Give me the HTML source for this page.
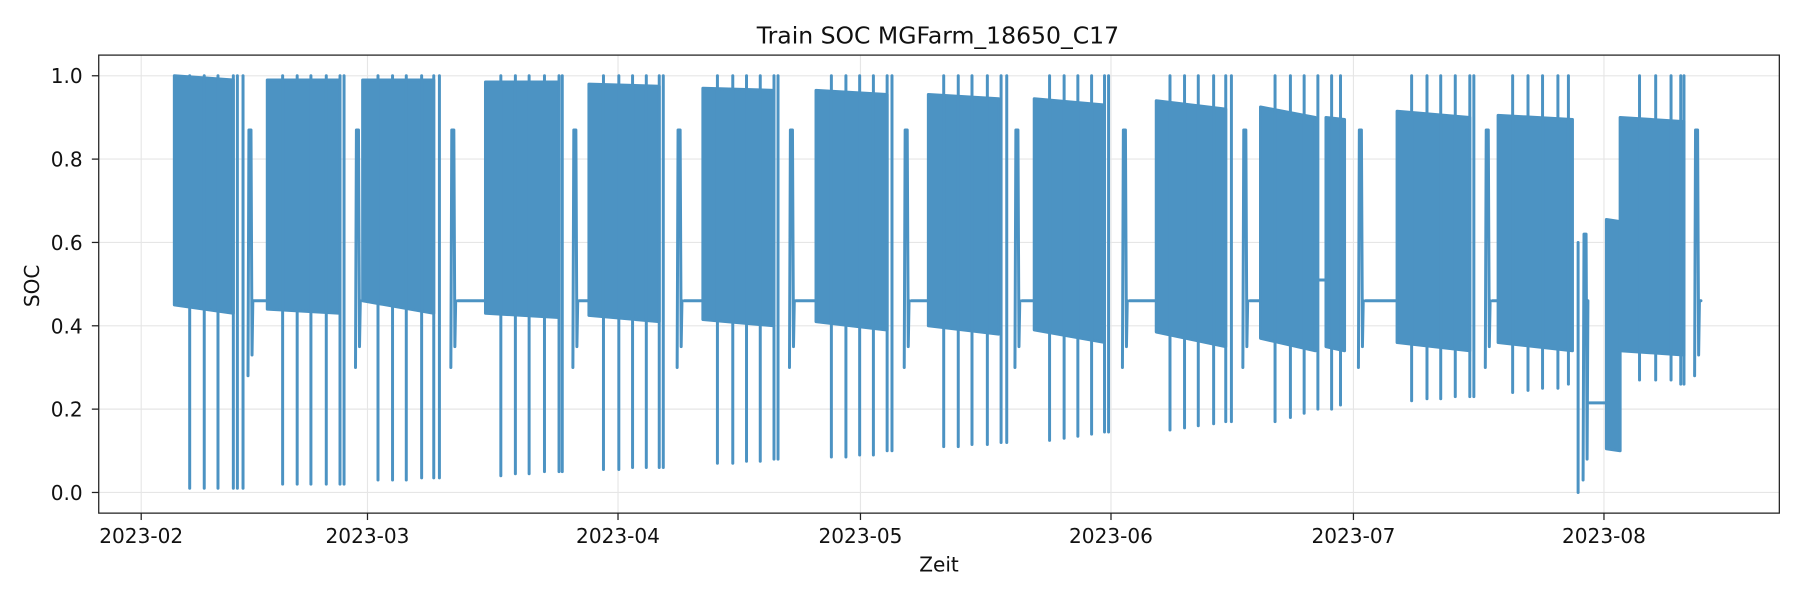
<!DOCTYPE html>
<html><head><meta charset="utf-8"><style>
html,body{margin:0;padding:0;background:#fff;}
svg{display:block;font-family:"DejaVu Sans","Liberation Sans",sans-serif;}
</style></head><body>
<svg id="chart" width="1800" height="600" viewBox="0 0 1568 522.67" xmlns="http://www.w3.org/2000/svg">
<rect x="0" y="0" width="1568" height="522.67" fill="#fff"/>
<g id="grid"></g>
<g id="series"></g>
<rect x="86" y="48" width="1464" height="399" fill="none" stroke="#222" stroke-width="1.1"/>
<g id="axes"></g>
<text x="817" y="38" font-size="20.5" text-anchor="middle" fill="#111">Train SOC MGFarm_18650_C17</text>
<text x="818" y="498" font-size="17.5" text-anchor="middle" fill="#111">Zeit</text>
<text x="34" y="249" font-size="17.5" text-anchor="middle" fill="#111" transform="rotate(-90 34 249)">SOC</text>
</svg>
<script>
// days since 2023-02-01
const monthTicks = [0, 28, 59, 89, 120, 150, 181];
const monthLabels = ["2023-02","2023-03","2023-04","2023-05","2023-06","2023-07","2023-08"];
const yTicks = [0.0, 0.2, 0.4, 0.6, 0.8, 1.0];
const yTickLabels = ["0.0","0.2","0.4","0.6","0.8","1.0"];
// blocks: [startDay, endDay, topStart, topEnd, bottomStart, bottomEnd]
const blocks = [
 [4.1,11.4,1.0,0.99,0.45,0.43],
 [15.6,24.6,0.99,0.99,0.44,0.43],
 [27.4,36.2,0.99,0.99,0.46,0.43],
 [42.6,51.7,0.985,0.985,0.43,0.42],
 [55.4,64.1,0.98,0.975,0.425,0.41],
 [69.5,78.3,0.97,0.965,0.415,0.40],
 [83.5,92.3,0.965,0.955,0.41,0.39],
 [97.4,106.1,0.955,0.945,0.40,0.38],
 [110.5,119.2,0.945,0.93,0.39,0.36],
 [125.6,134.2,0.94,0.92,0.385,0.35],
 [138.5,145.3,0.925,0.90,0.37,0.34],
 [146.6,148.9,0.90,0.895,0.35,0.34],
 [155.4,164.4,0.915,0.90,0.36,0.34],
 [167.9,177.1,0.905,0.895,0.36,0.34],
 [181.3,183.0,0.655,0.65,0.105,0.10],
 [183.0,190.9,0.90,0.89,0.34,0.33]
];
// spikes: [day, minValue] (excursion 1.0 -> min)
const spikeDays = [6.0,7.8,9.5,11.4,11.9,12.6, 17.5,19.3,21.0,22.9,24.6,25.1, 29.3,31.1,32.8,34.7,36.2,36.9,
 44.5,46.3,48.0,49.9,51.7,52.1, 57.2,59.1,60.8,62.5,64.1,64.6, 71.3,73.2,74.9,76.6,78.3,78.8,
 85.4,87.2,88.9,90.6,92.3,92.9, 99.3,101.1,102.8,104.7,106.4,107.1, 112.4,114.2,115.9,117.6,119.2,119.7,
 127.3,129.1,130.8,132.7,134.2,134.9, 140.3,142.2,143.9,145.6,147.3,148.4, 157.2,159.1,160.8,162.6,164.4,164.9,
 169.7,171.6,173.4,175.3,176.6, 185.4,187.4,189.3,190.5,190.9];
const spikeMins = [0.01,0.01,0.01,0.01,0.01,0.01, 0.02,0.02,0.02,0.02,0.02,0.02, 0.03,0.03,0.03,0.035,0.035,0.035,
 0.04,0.045,0.045,0.05,0.05,0.05, 0.055,0.055,0.06,0.06,0.06,0.06, 0.07,0.07,0.075,0.075,0.08,0.08,
 0.085,0.085,0.09,0.09,0.1,0.1, 0.11,0.11,0.115,0.115,0.12,0.12, 0.125,0.13,0.135,0.14,0.145,0.145,
 0.15,0.155,0.16,0.165,0.17,0.17, 0.17,0.18,0.19,0.2,0.2,0.21, 0.22,0.225,0.225,0.23,0.23,0.23,
 0.24,0.245,0.25,0.25,0.26, 0.27,0.27,0.27,0.26,0.26];
// humps: [day, peak, low]
const humps = [[13.5,0.87,0.33],[26.8,0.87,0.35],[38.6,0.87,0.35],[53.7,0.87,0.35],[66.6,0.87,0.35],[80.5,0.87,0.35],
 [94.7,0.87,0.35],[108.4,0.87,0.35],[121.7,0.87,0.35],[136.6,0.87,0.35],[150.9,0.87,0.35],[166.6,0.87,0.35],[178.7,0.62,0.08],[192.5,0.87,0.33]];
// flat segments: [startDay, endDay, value]
const flats = [[13.9,15.6,0.46],[39.2,42.6,0.46],[54.2,55.4,0.46],[67.2,69.5,0.46],[81.0,83.5,0.46],[95.3,97.4,0.46],
 [109.0,110.5,0.46],[122.3,125.6,0.46],[137.2,138.5,0.46],[145.3,146.6,0.51],[151.5,155.4,0.46],[167.2,167.9,0.46],[179.2,181.3,0.215],[192.9,193.0,0.46]];
const extraDrops = [[177.8,0.0]];

const NS="http://www.w3.org/2000/svg";
const X0=86,X1=1550,Y0=48,Y1=447;
function xs(d){return 123 + d*7.04;}
function ys(v){return 429 - v*363;}
const COL="#4c93c3";
const grid=document.getElementById('grid'), ser=document.getElementById('series'), axes=document.getElementById('axes');
function mk(tag,attrs,parent){const e=document.createElementNS(NS,tag);for(const k in attrs)e.setAttribute(k,attrs[k]);parent.appendChild(e);return e;}

monthTicks.forEach((d,i)=>{
  const x=xs(d);
  const g=mk('line',{x1:x,x2:x,y1:Y0,y2:Y1,stroke:'#e6e6e6','stroke-width':1},grid);
  
  
  const t=mk('line',{x1:x,x2:x,y1:Y1,y2:Y1+6,stroke:'#222','stroke-width':1.1},axes);
  
  
  const l=mk('text',{x:x,y:473,'font-size':17.5,'text-anchor':'middle',fill:'#111'},axes);
  l.textContent=monthLabels[i];
  
  
});
yTicks.forEach((v,i)=>{
  const y=ys(v);
  const g=mk('line',{x1:X0,x2:X1,y1:y,y2:y,stroke:'#e6e6e6','stroke-width':1},grid);
  
  
  const t=mk('line',{x1:X0-6,x2:X0,y1:y,y2:y,stroke:'#222','stroke-width':1.1},axes);
  
  
  const l=mk('text',{x:72,y:y+6.5,'font-size':17.5,'text-anchor':'end',fill:'#111'},axes);
  l.textContent=yTickLabels[i];
  
  
});

const sty={fill:'none',stroke:COL,'stroke-width':2.6,'stroke-linejoin':'round','stroke-linecap':'round'};
flats.forEach(f=>{
  const p=mk('line',Object.assign({x1:xs(f[0]),x2:xs(f[1]),y1:ys(f[2]),y2:ys(f[2])},sty),ser);
  
  
});
blocks.forEach(b=>{
  const pts=[[xs(b[0]),ys(b[2])],[xs(b[1]),ys(b[3])],[xs(b[1]),ys(b[5])],[xs(b[0]),ys(b[4])]].map(p=>p.join(',')).join(' ');
  const p=mk('polygon',{points:pts,fill:COL,stroke:COL,'stroke-width':2.6,'stroke-linejoin':'round'},ser);
  
  
});
spikeDays.forEach((d,i)=>{
  const p=mk('line',Object.assign({x1:xs(d),x2:xs(d),y1:ys(1.0),y2:ys(spikeMins[i])},sty),ser);
  
  
});
extraDrops.forEach(e=>{
  const p=mk('line',Object.assign({x1:xs(e[0]),x2:xs(e[0]),y1:ys(0.6),y2:ys(e[1])},sty),ser);
  
  
});
humps.forEach(h=>{
  const x=xs(h[0]);
  const d=`M${x-2},${ys(h[2]-0.05)} L${x-1.2},${ys(h[1])} L${x+0.6},${ys(h[1])} L${x+1.5},${ys(h[2])} L${x+2.2},${ys(0.46)}`;
  const p=mk('path',Object.assign({d:d},sty),ser);
  
  
});
</script>
</body></html>
